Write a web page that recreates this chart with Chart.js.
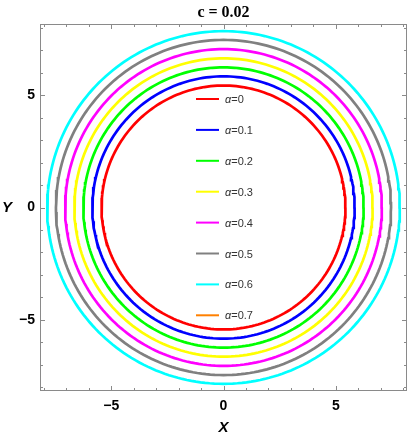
<!DOCTYPE html>
<html>
<head>
<meta charset="utf-8">
<script src="https://cdn.jsdelivr.net/npm/chart.js@4.4.1/dist/chart.umd.min.js"></script>
<style>
  html, body { margin: 0; padding: 0; background: #fff; }
</style>
</head>
<body>
<canvas id="orbits" width="409" height="439"></canvas>
<script>
// alpha values and the radius of each closed curve
const alphas = ['0', '0.1', '0.2', '0.3', '0.4', '0.5', '0.6', '0.7'];
const radii = [5.43, 5.84, 6.24, 6.64, 7.05, 7.46, 7.85, null]; // alpha=0.7 has no visible curve
const colors = ['#ff0000', '#0000ff', '#00ff00', '#ffff00', '#ff00ff', '#808080', '#00ffff', '#ff8000'];
const xTicks = [-5, 0, 5];
const yTicks = [-5, 0, 5];
const plotTitle = 'c = 0.02';
const axisMin = -8.17;
const axisMax = 8.17;

// points along a circle of radius r
function circlePoints(r) {
    if (r === null) return [];
    const pts = [];
    const steps = 240;
    for (let i = 0; i <= steps; i++) {
        const t = (i / steps) * 2 * Math.PI;
        pts.push({ x: r * Math.cos(t), y: r * Math.sin(t) });
    }
    return pts;
}

const minus = v => String(v).replace('-', '\u2212');

// frame with inward ticks, title, Y label and the inset legend
const framePlugin = {
    id: 'frame',
    afterDraw(chart) {
        const ctx = chart.ctx;
        const area = chart.chartArea;
        const xs = chart.scales.x;
        const ys = chart.scales.y;

        ctx.save();
        ctx.strokeStyle = '#8a8a8a';
        ctx.lineWidth = 1;
        ctx.strokeRect(area.left + 0.5, area.top + 0.5, area.right - area.left - 1, area.bottom - area.top - 1);

        ctx.beginPath();
        for (let v = Math.ceil(axisMin); v <= Math.floor(axisMax); v++) {
            const len = v % 5 === 0 ? 5 : 3;
            const px = Math.round(xs.getPixelForValue(v)) + 0.5;
            ctx.moveTo(px, area.bottom);
            ctx.lineTo(px, area.bottom - len);
            ctx.moveTo(px, area.top);
            ctx.lineTo(px, area.top + len);
            const py = Math.round(ys.getPixelForValue(v)) + 0.5;
            ctx.moveTo(area.left, py);
            ctx.lineTo(area.left + len, py);
            ctx.moveTo(area.right, py);
            ctx.lineTo(area.right - len, py);
        }
        ctx.stroke();

        // title
        ctx.fillStyle = '#000';
        ctx.font = 'bold 16px "Liberation Serif", "Times New Roman", serif';
        ctx.textAlign = 'center';
        ctx.textBaseline = 'alphabetic';
        ctx.fillText(plotTitle, (area.left + area.right) / 2, 17);

        // Y axis label (not rotated)
        ctx.font = 'bold italic 15px "Liberation Sans", Arial, sans-serif';
        ctx.textBaseline = 'middle';
        ctx.fillText('Y', 7, ys.getPixelForValue(0));

        // legend
        const lx = area.left + 156;
        let ly = area.top + 75;
        chart.data.datasets.forEach(ds => {
            ctx.strokeStyle = ds.borderColor;
            ctx.lineWidth = 2;
            ctx.beginPath();
            ctx.moveTo(lx, ly);
            ctx.lineTo(lx + 23, ly);
            ctx.stroke();

            ctx.fillStyle = '#333';
            ctx.textAlign = 'left';
            ctx.textBaseline = 'middle';
            ctx.font = 'italic 11px "Liberation Sans", Arial, sans-serif';
            ctx.fillText('\u03b1', lx + 29, ly + 1);
            const aw = ctx.measureText('\u03b1').width;
            ctx.font = '11px "Liberation Sans", Arial, sans-serif';
            ctx.fillText('=' + ds.alphaValue, lx + 29 + aw, ly + 1);
            ly += 30.9;
        });
        ctx.restore();
    }
};

const datasets = alphas.map((a, i) => ({
    label: '\u03b1=' + a,
    alphaValue: a,
    data: circlePoints(radii[i]),
    showLine: true,
    borderColor: colors[i],
    backgroundColor: colors[i],
    borderWidth: 2.7,
    pointRadius: 0,
    fill: false,
    tension: 0
}));

const tickFont = { family: '"Liberation Sans", Arial, sans-serif', size: 14, weight: 'bold' };

new Chart(document.getElementById('orbits'), {
    type: 'scatter',
    data: { datasets },
    options: {
        responsive: false,
        animation: false,
        devicePixelRatio: 1,
        layout: { padding: { top: 24, right: 2, left: 0, bottom: 0 } },
        plugins: {
            legend: { display: false },
            tooltip: { enabled: false }
        },
        scales: {
            x: {
                type: 'linear',
                min: axisMin,
                max: axisMax,
                grid: { display: false, drawTicks: false },
                border: { display: false },
                afterBuildTicks: s => { s.ticks = xTicks.map(v => ({ value: v })); },
                afterFit: s => { s.height = 48; },
                ticks: { font: tickFont, color: '#000', padding: 7, maxRotation: 0, callback: v => minus(v) },
                title: {
                    display: true,
                    text: 'X',
                    color: '#000',
                    font: { family: '"Liberation Sans", Arial, sans-serif', size: 15, weight: 'bold', style: 'italic' },
                    padding: { top: 0, bottom: 2 }
                }
            },
            y: {
                type: 'linear',
                min: axisMin,
                max: axisMax,
                grid: { display: false, drawTicks: false },
                border: { display: false },
                afterBuildTicks: s => { s.ticks = yTicks.map(v => ({ value: v })); },
                afterFit: s => { s.width = 40; },
                ticks: { font: tickFont, color: '#000', padding: 5, callback: v => minus(v) }
            }
        }
    },
    plugins: [framePlugin]
});
</script>
</body>
</html>
